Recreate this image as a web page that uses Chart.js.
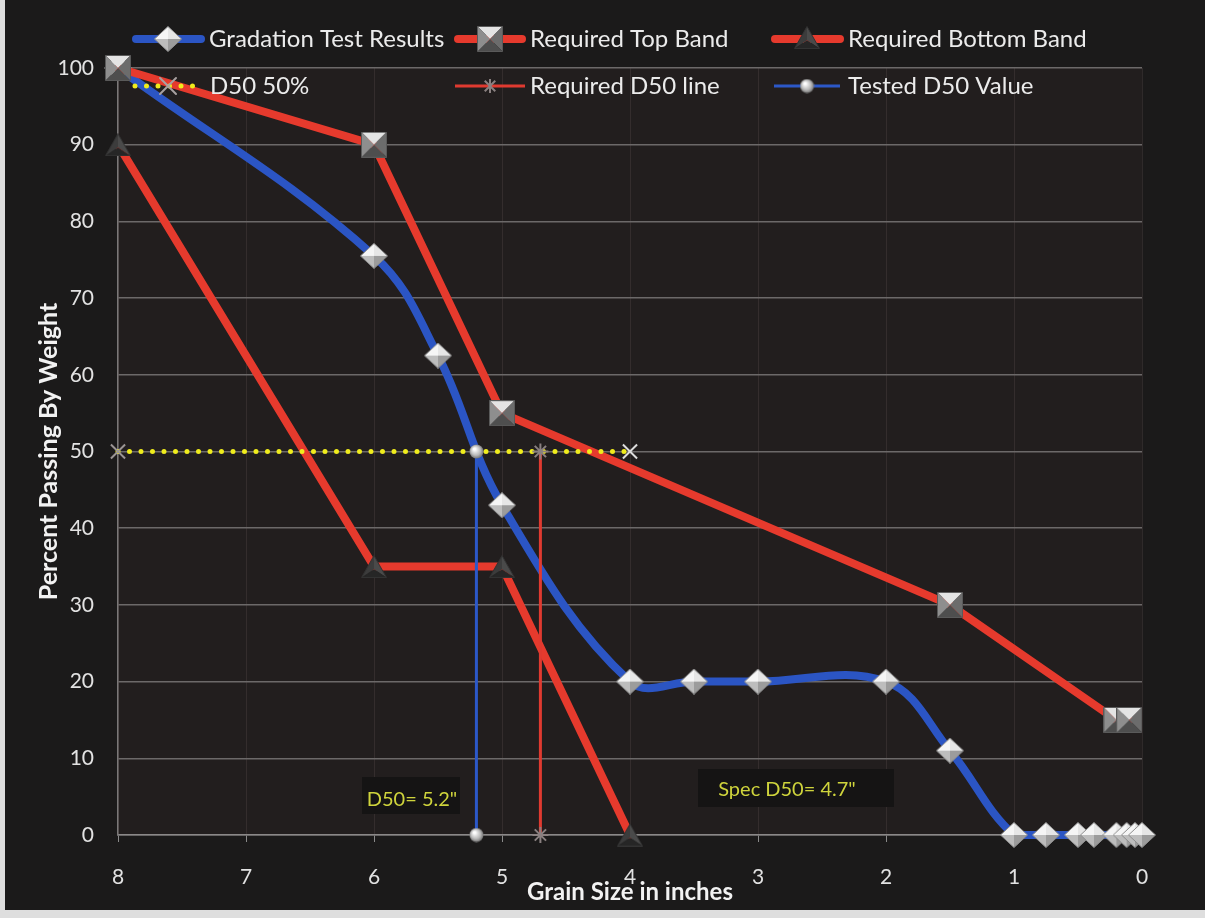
<!DOCTYPE html>
<html><head><meta charset="utf-8">
<script src="https://cdn.jsdelivr.net/npm/chart.js@4.4.1/dist/chart.umd.min.js"></script>
<style>html,body{margin:0;padding:0;background:#dedede;overflow:hidden}
#wrap{position:relative;width:1205px;height:918px}</style></head>
<body><div id="wrap"><canvas id="c" width="1205" height="918"></canvas></div>
<script>
// ---- data ----
const gradationX = [8, 6, 5.5, 5, 4, 3.5, 3, 2, 1.5, 1, 0.75, 0.5, 0.375, 0.2, 0.12, 0.055, 0];
const gradationY = [100, 75.5, 62.5, 43, 20, 20, 20, 20, 11, 0, 0, 0, 0, 0, 0, 0, 0];
const topBandX = [8, 6, 5, 1.5, 0.2, 0.1];
const topBandY = [100, 90, 55, 30, 15, 15];
const bottomBandX = [8, 6, 5, 4];
const bottomBandY = [90, 35, 35, 0];
const d50LineX = [8, 4];
const d50LineY = [50, 50];
const reqD50X = [4.7, 4.7];
const reqD50Y = [50, 0];
const testedD50X = [5.2, 5.2];
const testedD50Y = [50, 0];
const xTicks = [0, 1, 2, 3, 4, 5, 6, 7, 8];
const yTicks = [0, 10, 20, 30, 40, 50, 60, 70, 80, 90, 100];
const seriesNames = ['Gradation Test Results', 'Required Top Band', 'Required Bottom Band', 'D50 50%', 'Required D50 line', 'Tested D50 Value'];
const noteTested = 'D50= 5.2"';
const noteSpec = 'Spec D50= 4.7"';
const xTitle = 'Grain Size in inches';
const yTitle = 'Percent Passing By Weight';

const pts = (xs, ys) => xs.map((x, i) => ({x, y: ys[i]}));
const FONT = 'Lato, "Open Sans", sans-serif';

// ---- marker images ----
function facetCanvas(w, h, verts, colors, stroke) {
  const c = document.createElement('canvas'); c.width = w; c.height = h;
  const g = c.getContext('2d');
  const cx = w / 2, cy = h / 2 + (verts.length === 3 ? h * 0.12 : 0);
  for (let i = 0; i < verts.length; i++) {
    const a = verts[i], b = verts[(i + 1) % verts.length];
    g.beginPath(); g.moveTo(a[0], a[1]); g.lineTo(b[0], b[1]); g.lineTo(cx, cy); g.closePath();
    g.fillStyle = colors[i]; g.fill();
  }
  g.beginPath(); verts.forEach((v, i) => i ? g.lineTo(v[0], v[1]) : g.moveTo(v[0], v[1])); g.closePath();
  g.strokeStyle = stroke; g.lineWidth = 1; g.stroke();
  return c;
}
const diamondImg = facetCanvas(28, 26, [[14, 0.5], [27.5, 13], [14, 25.5], [0.5, 13]], ['#e6e6e6', '#9c9c9c', '#bdbdbd', '#f5f5f5'], '#8e8e8e');
const squareImg = facetCanvas(26, 26, [[0.5, 0.5], [25.5, 0.5], [25.5, 25.5], [0.5, 25.5]], ['#e4e4e4', '#6c6c6c', '#4e4e4e', '#8e8e8e'], '#5a5a5a');
const triImg = facetCanvas(26, 23, [[13, 0.5], [25.5, 22.5], [0.5, 22.5]], ['#4a4a4a', '#262626', '#3c3c3c'], '#333');
const sphereImg = (() => {
  const c = document.createElement('canvas'); c.width = 15; c.height = 15;
  const g = c.getContext('2d');
  const gr = g.createRadialGradient(5.5, 5, 1, 7.5, 7.5, 7.5);
  gr.addColorStop(0, '#ffffff'); gr.addColorStop(0.6, '#b8b8b8'); gr.addColorStop(1, '#6a6a6a');
  g.fillStyle = gr; g.beginPath(); g.arc(7.5, 7.5, 7, 0, Math.PI * 2); g.fill();
  return c;
})();

// ---- plugins ----
const bgPlugin = {
  id: 'bg',
  beforeDraw(chart) {
    const {ctx, chartArea: a} = chart;
    ctx.save();
    ctx.fillStyle = '#dedede'; ctx.fillRect(0, 0, chart.width, chart.height);
    ctx.fillStyle = '#1b1a1a'; ctx.fillRect(5, 0, chart.width - 5, 910);
    ctx.fillStyle = '#221e1e'; ctx.fillRect(a.left, a.top, a.right - a.left, a.bottom - a.top);
    ctx.restore();
  }
};

function drawX(g, x, y, r, col) {
  g.strokeStyle = col; g.lineWidth = 2;
  g.beginPath(); g.moveTo(x - r, y - r); g.lineTo(x + r, y + r); g.moveTo(x + r, y - r); g.lineTo(x - r, y + r); g.stroke();
}
function drawStar(g, x, y, r, col) {
  drawX(g, x, y, r * 0.75, col);
  g.beginPath(); g.moveTo(x, y - r); g.lineTo(x, y + r); g.stroke();
}

const overlayPlugin = {
  id: 'overlay',
  afterDraw(chart) {
    const g = chart.ctx;
    g.save();
    // annotation boxes
    g.font = '20px ' + FONT; g.textBaseline = 'middle'; g.textAlign = 'center';
    g.fillStyle = '#151414'; g.fillRect(362, 777, 98, 37);
    g.fillStyle = '#cfd43c'; g.fillText(noteTested, 412, 800);
    g.fillStyle = '#151414'; g.fillRect(698, 769, 196, 38);
    g.fillStyle = '#cfd43c'; g.fillText(noteSpec, 787, 790);

    // legend
    g.font = '24px ' + FONT; g.textAlign = 'left'; g.textBaseline = 'middle';
    g.lineCap = 'round';
    const row1 = 39, row2 = 86;
    // Gradation
    g.strokeStyle = '#2b55c4'; g.lineWidth = 8;
    g.beginPath(); g.moveTo(136, row1); g.lineTo(201, row1); g.stroke();
    g.drawImage(diamondImg, 168 - 14, row1 - 13);
    // Top band
    g.strokeStyle = '#e63a2d';
    g.beginPath(); g.moveTo(458, row1); g.lineTo(522, row1); g.stroke();
    g.drawImage(squareImg, 490 - 13, row1 - 13);
    // Bottom band
    g.beginPath(); g.moveTo(775, row1); g.lineTo(840, row1); g.stroke();
    g.drawImage(triImg, 807 - 13, row1 - 13);
    // D50 50%
    g.strokeStyle = '#f0ec1c'; g.lineWidth = 5; g.setLineDash([0, 11.5]);
    g.beginPath(); g.moveTo(135, row2); g.lineTo(197, row2); g.stroke();
    g.setLineDash([]);
    drawX(g, 168, row2, 8, '#a8a0a0');
    // Required D50
    g.strokeStyle = '#e03a30'; g.lineWidth = 3; g.lineCap = 'butt';
    g.beginPath(); g.moveTo(455, row2); g.lineTo(525, row2); g.stroke();
    drawStar(g, 490, row2, 7, '#8a8080');
    // Tested D50
    g.strokeStyle = '#2c58c8'; g.lineWidth = 3;
    g.beginPath(); g.moveTo(774, row2); g.lineTo(840, row2); g.stroke();
    g.drawImage(sphereImg, 807 - 7.5, row2 - 7.5);

    g.fillStyle = '#ebebeb';
    g.fillText(seriesNames[0], 209, row1);
    g.fillText(seriesNames[1], 530, row1);
    g.fillText(seriesNames[2], 848, row1);
    g.fillText(seriesNames[3], 210, row2);
    g.fillText(seriesNames[4], 530, row2);
    g.fillText(seriesNames[5], 848, row2);
    g.restore();
  }
};

new Chart(document.getElementById('c'), {
  type: 'line',
  data: {
    datasets: [
      {label: seriesNames[0], data: pts(gradationX, gradationY), order: 6,
       borderColor: '#2b55c4', borderWidth: 8, tension: 0.38, borderJoinStyle: 'round', borderCapStyle: 'round',
       pointStyle: diamondImg, pointRadius: 13},
      {label: seriesNames[1], data: pts(topBandX, topBandY), order: 5,
       borderColor: '#e63a2d', borderWidth: 8, tension: 0, borderJoinStyle: 'round', borderCapStyle: 'round',
       pointStyle: squareImg, pointRadius: 13},
      {label: seriesNames[2], data: pts(bottomBandX, bottomBandY), order: 4,
       borderColor: '#e63a2d', borderWidth: 8, tension: 0, borderJoinStyle: 'round', borderCapStyle: 'round',
       pointStyle: triImg, pointRadius: 13},
      {label: seriesNames[3], data: pts(d50LineX, d50LineY), order: 3,
       borderColor: '#f0ec1c', borderWidth: 5, borderDash: [0, 11.5], borderCapStyle: 'round',
       pointStyle: 'crossRot', pointRadius: 10, pointBorderWidth: 2, pointBorderColor: ['#9a9494', '#dcdcdc']},
      {label: seriesNames[4], data: pts(reqD50X, reqD50Y), order: 2,
       borderColor: '#e03a30', borderWidth: 3,
       pointStyle: 'star', pointRadius: 8, pointBorderWidth: 2, pointBorderColor: '#8a8080'},
      {label: seriesNames[5], data: pts(testedD50X, testedD50Y), order: 1,
       borderColor: '#2c58c8', borderWidth: 3,
       pointStyle: sphereImg, pointRadius: 7}
    ]
  },
  options: {
    responsive: false, animation: false, clip: false,
    layout: {padding: {top: 68, right: 63, left: 0, bottom: 0}},
    plugins: {legend: {display: false}, tooltip: {enabled: false}},
    scales: {
      x: {
        type: 'linear', reverse: true, min: 0, max: 8,
        afterBuildTicks: s => { s.ticks = xTicks.map(v => ({value: v})); },
        afterFit: s => { s.height = 83; },
        ticks: {color: '#e2e2e2', font: {family: FONT, size: 21}, padding: 23, maxRotation: 0},
        grid: {color: 'rgba(120,100,100,0.22)', tickColor: '#8a8a8a', tickLength: 7, lineWidth: 1},
        border: {color: '#8a8888', width: 1.5},
        title: {display: true, text: xTitle, color: '#f2f2f2', font: {family: FONT, size: 24, weight: 'bold'}, padding: {top: 0, bottom: 11}}
      },
      y: {
        min: 0, max: 100,
        afterBuildTicks: s => { s.ticks = yTicks.map(v => ({value: v})); },
        afterFit: s => { s.width = 118; },
        ticks: {color: '#e2e2e2', font: {family: FONT, size: 21}, padding: 24},
        grid: {color: '#6c6969', lineWidth: 1.5, drawTicks: false},
        border: {color: '#7a7878', width: 1.5},
        title: {display: true, text: yTitle, color: '#f2f2f2', font: {family: FONT, size: 25, weight: 'bold'}, padding: {top: 34, bottom: 0}}
      }
    }
  },
  plugins: [bgPlugin, overlayPlugin]
});
</script></body></html>
